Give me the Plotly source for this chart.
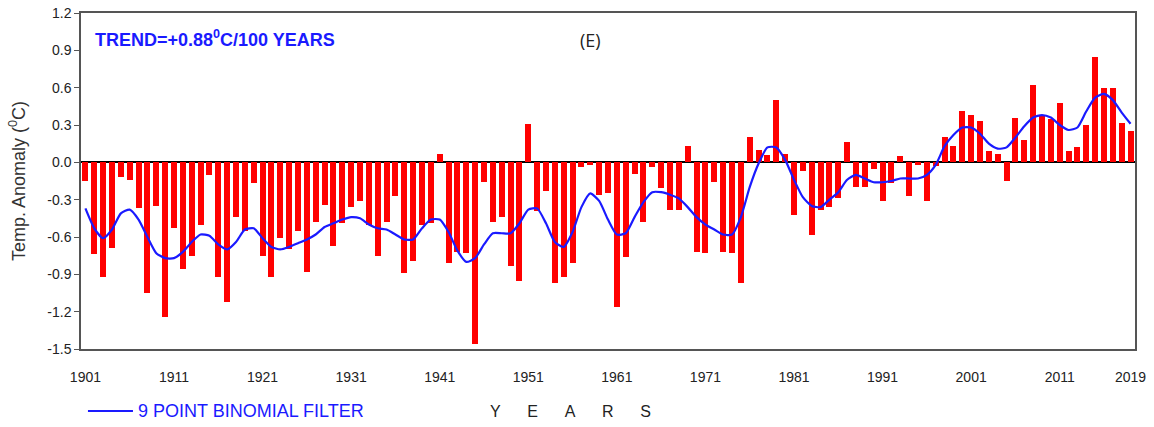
import plotly.graph_objects as go

# annual temperature anomaly (deg C), 1901-2019
years = list(range(1901, 2020))
anomaly = [
    -0.15, -0.74, -0.92, -0.69, -0.12, -0.14, -0.37, -1.05, -0.35, -1.24,
    -0.53, -0.86, -0.75, -0.50, -0.10, -0.92, -1.12, -0.44, -0.55, -0.17,
    -0.75, -0.92, -0.61, -0.70, -0.55, -0.88, -0.48, -0.34, -0.67, -0.49,
    -0.36, -0.31, -0.50, -0.75, -0.48, -0.27, -0.89, -0.79, -0.50, -0.49,
    0.07, -0.81, -0.72, -0.73, -1.46, -0.16, -0.48, -0.44, -0.83, -0.95,
    0.31, -0.39, -0.23, -0.97, -0.92, -0.81, -0.04, -0.02, -0.26, -0.25,
    -1.16, -0.76, -0.09, -0.48, -0.04, -0.21, -0.38, -0.38, 0.13, -0.72,
    -0.73, -0.16, -0.72, -0.73, -0.97, 0.20, 0.10, 0.06, 0.50, 0.07,
    -0.42, -0.07, -0.58, -0.38, -0.36, -0.29, 0.16, -0.20, -0.20, -0.05,
    -0.31, -0.17, 0.05, -0.27, -0.02, -0.31, -0.03, 0.20, 0.13, 0.41,
    0.38, 0.33, 0.09, 0.07, -0.15, 0.36, 0.18, 0.62, 0.38, 0.35,
    0.48, 0.09, 0.12, 0.30, 0.85, 0.60, 0.60, 0.32, 0.25,
]
# 9 point binomial filter
smooth = [
    -0.37, -0.53, -0.61, -0.54, -0.41, -0.38, -0.46, -0.60, -0.73, -0.77,
    -0.77, -0.72, -0.64, -0.58, -0.59, -0.66, -0.70, -0.64, -0.54, -0.53,
    -0.61, -0.68, -0.70, -0.68, -0.65, -0.62, -0.58, -0.52, -0.49, -0.46,
    -0.44, -0.45, -0.50, -0.53, -0.54, -0.58, -0.62, -0.62, -0.53, -0.46,
    -0.46, -0.56, -0.71, -0.80, -0.77, -0.66, -0.57, -0.57, -0.57, -0.49,
    -0.38, -0.37, -0.49, -0.64, -0.68, -0.56, -0.36, -0.25, -0.31, -0.46,
    -0.58, -0.57, -0.44, -0.32, -0.24, -0.24, -0.26, -0.29, -0.36, -0.44,
    -0.50, -0.54, -0.58, -0.58, -0.44, -0.20, -0.01, 0.12, 0.12, 0.02,
    -0.14, -0.28, -0.35, -0.36, -0.30, -0.24, -0.14, -0.10, -0.13, -0.16,
    -0.16, -0.15, -0.13, -0.13, -0.13, -0.10, -0.02, 0.13, 0.22, 0.28,
    0.28, 0.23, 0.15, 0.11, 0.12, 0.20, 0.29, 0.36, 0.38, 0.36,
    0.30, 0.26, 0.28, 0.41, 0.52, 0.55, 0.50, 0.40, 0.31,
]
xticks = [1901, 1911, 1921, 1931, 1941, 1951, 1961, 1971, 1981, 1991, 2001, 2011, 2019]
yticks = [1.2, 0.9, 0.6, 0.3, 0.0, -0.3, -0.6, -0.9, -1.2, -1.5]

sans = "Liberation Sans, Arial"
blue = "#1a1aff"

fig = go.Figure()
fig.add_trace(go.Bar(x=years, y=anomaly, width=0.68,
                     marker=dict(color="#ff0000", line=dict(width=0)),
                     showlegend=False))
fig.add_trace(go.Scatter(x=years, y=smooth, mode="lines",
                         line=dict(color=blue, width=2.2, shape="spline", smoothing=0.6),
                         name="9 POINT BINOMIAL FILTER", showlegend=False))

fig.update_layout(
    width=1154, height=427,
    margin=dict(l=81, r=19, t=13, b=78, autoexpand=False),
    plot_bgcolor="white", paper_bgcolor="white",
    bargap=0,
    font=dict(family=sans, size=14, color="#222"),
    # legend drawn by hand, the line sample is longer than plotly's
    shapes=[dict(type="line", xref="paper", yref="paper", x0=0.0066, x1=0.0493,
                 y0=-0.1845, y1=-0.1845, line=dict(color=blue, width=2.2))],
    annotations=[
        dict(text="9 POINT BINOMIAL FILTER", xref="paper", yref="paper",
             x=0.0522, y=-0.1845, xanchor="left", yanchor="middle", showarrow=False,
             font=dict(family=sans, size=18, color=blue)),
        dict(text="<b>TREND=+0.88<sup>0</sup>C/100 YEARS</b>", xref="paper", yref="paper",
             x=0.011, y=0.925, xanchor="left", yanchor="middle", showarrow=False,
             font=dict(family=sans, size=18, color=blue)),
        dict(text="(E)", xref="paper", yref="paper", x=0.483, y=0.92,
             xanchor="center", yanchor="middle", showarrow=False,
             font=dict(family="Open Sans, DejaVu Sans", size=18, color="#222")),
        dict(text="Y\u00a0\u00a0\u00a0\u00a0\u00a0\u00a0E\u00a0\u00a0\u00a0\u00a0\u00a0\u00a0A"
                  "\u00a0\u00a0\u00a0\u00a0\u00a0\u00a0R\u00a0\u00a0\u00a0\u00a0\u00a0\u00a0S",
             xref="paper", yref="paper", x=0.464, y=-0.185, xanchor="center", yanchor="middle",
             showarrow=False, font=dict(family=sans, size=16, color="#222")),
    ],
)
fig.update_xaxes(range=[1900.5, 2019.5], tickvals=xticks, ticktext=[str(t) for t in xticks],
                 showgrid=False, zeroline=False, showline=True, linecolor="#555", linewidth=1.5,
                 mirror=True, ticks="", ticklabelstandoff=14, automargin=False,
                 tickfont=dict(family=sans, size=14, color="#222"))
fig.update_yaxes(range=[-1.5, 1.2], tickvals=yticks, ticktext=[f"{v:.1f}" for v in yticks],
                 showgrid=False, zeroline=True, zerolinecolor="black", zerolinewidth=1.5,
                 showline=True, linecolor="#555", linewidth=1.5, mirror=True,
                 ticks="outside", ticklen=5, tickcolor="#555", layer="above traces",
                 automargin=False,
                 tickfont=dict(family=sans, size=14, color="#222"),
                 title=dict(text="Temp. Anomaly (<sup>0</sup>C)", standoff=17,
                            font=dict(family=sans, size=18, color="#333")))

# drop the default 8px page margin so the figure fills the window
fig.write_html("out.html", config={"displayModeBar": False},
               post_script="document.body.style.margin = '0';")
